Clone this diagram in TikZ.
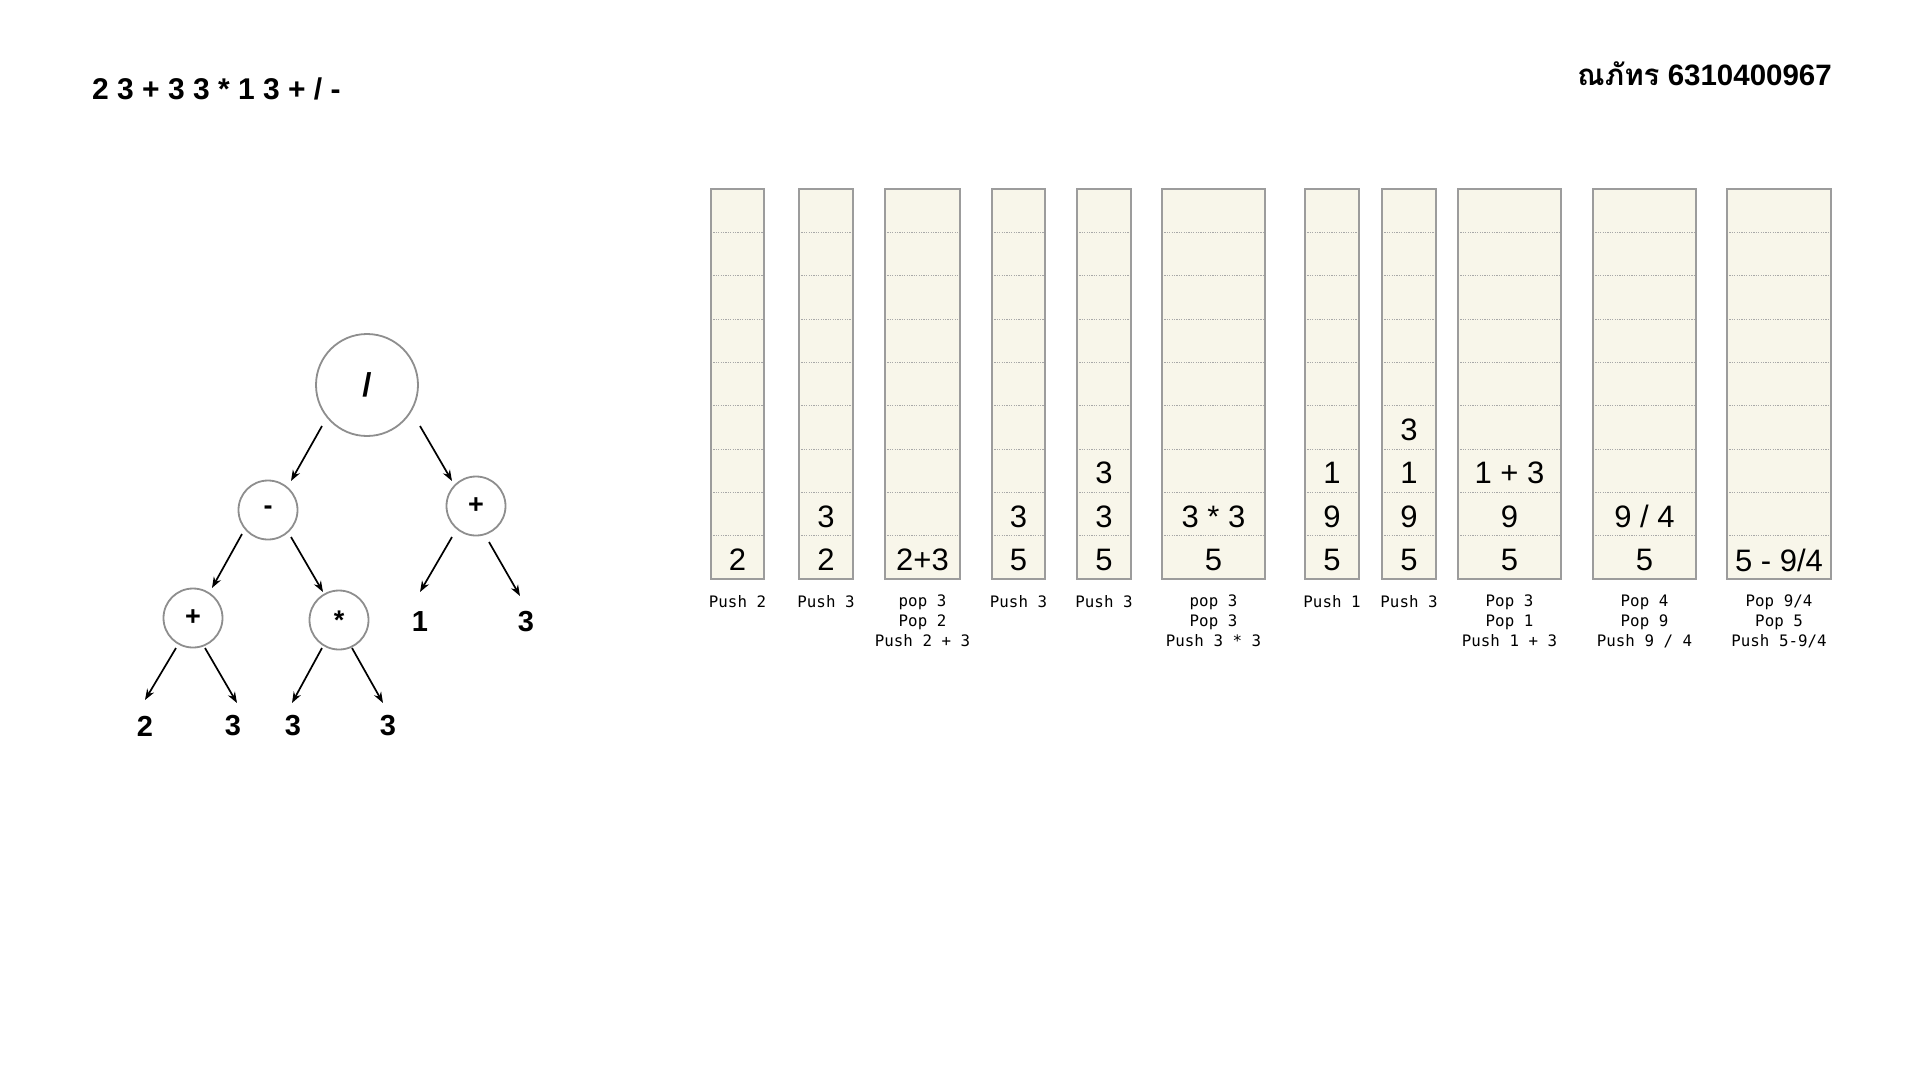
\documentclass[tikz,border=0pt]{standalone}
\usepackage{fontspec}
\setmainfont{Liberation Sans}
\newfontfamily\thaifont[Script=Thai]{Loma}
\newfontfamily\labfont{DejaVu Sans Mono}
\usetikzlibrary{arrows.meta,calc}
\definecolor{cellfill}{HTML}{F8F6EA}
\definecolor{cellline}{HTML}{9C9C9C}
\definecolor{dotcol}{HTML}{A8A8A8}
\definecolor{circcol}{HTML}{8E8E8E}
\begin{document}
\begin{tikzpicture}[x=1pt,y=-1pt,
  opc/.style={circle,draw=circcol,line width=1.8pt,fill=white,inner sep=0pt,font=\bfseries\fontsize{27}{30}\selectfont},
  leaf/.style={inner sep=0pt,font=\bfseries\fontsize{29}{32}\selectfont},
  arr/.style={-{Stealth[length=11pt,width=8pt]},line width=1.7pt,black},
  val/.style={inner sep=0pt,font=\fontsize{31}{36}\selectfont},
  lab/.style={inner sep=0pt,anchor=north,align=center,font=\labfont\fontsize{15.8}{20}\selectfont},
  dotline/.style={dotcol,line width=0.7pt,dash pattern=on 1.2pt off 1.2pt},
  cellborder/.style={cellline,line width=1.4pt}]
\useasboundingbox (0,0) rectangle (1920,1080);
\fill[white] (0,0) rectangle (1920,1080);

% titles
\node[anchor=base west,inner sep=0pt,font=\bfseries\fontsize{30}{34}\selectfont] (title) at (92,99) {2 3 + 3 3 * 1 3 + / -};
\node[anchor=base east,inner sep=0pt,font=\bfseries\fontsize{29.5}{34}\selectfont] (name) at (1832,85) {{\thaifont ณภัทร} 6310400967};

% tree
\node[opc,minimum size=102pt,font=\bfseries\fontsize{33}{36}\selectfont] (root) at (367,385) {/};
\node[opc,minimum size=59pt] (minus) at (268,510) {-};
\node[opc,minimum size=59pt] (plusR) at (476,506) {+};
\node[opc,minimum size=59pt] (plusL) at (193,618) {+};
\node[opc,minimum size=59pt] (star) at (339,620) {*};
\node[leaf] (one) at (420,622) {1};
\node[leaf] (threeR) at (526,622) {3};
\node[leaf] (two) at (145,726) {2};
\node[leaf] (threeA) at (233,726) {3};
\node[leaf] (threeB) at (293,726) {3};
\node[leaf] (threeC) at (388,726) {3};

\draw[arr] ($(root)+(-45,41)$) -- ($(minus)+(23,-29)$);
\draw[arr] ($(root)+(53,41)$) -- ($(plusR)+(-24,-25)$);
\draw[arr] ($(minus)+(-26,24)$) -- ($(plusL)+(19,-30)$);
\draw[arr] ($(minus)+(23,27)$) -- ($(star)+(-16,-28)$);
\draw[arr] ($(plusR)+(-24,31)$) -- ($(one)+(0,-30)$);
\draw[arr] ($(plusR)+(13,36)$) -- ($(threeR)+(-6,-26)$);
\draw[arr] ($(plusL)+(-17,30)$) -- ($(two)+(0,-26)$);
\draw[arr] ($(plusL)+(12,30)$) -- ($(threeA)+(4,-23)$);
\draw[arr] ($(star)+(-17,28)$) -- ($(threeB)+(-1,-23)$);
\draw[arr] ($(star)+(13,28)$) -- ($(threeC)+(-5,-23)$);

% stacks
\foreach \l/\r [count=\i] in {711/764,799/853,885/960,992/1045,1077/1131,1162/1265,1305/1359,1382/1436,1458/1561,1593/1696,1727/1831}{
  \fill[cellfill] (\l,189) rectangle (\r,579);
  \foreach \k in {1,...,8}{
    \draw[dotline] (\l,{579-\k*43.333}) -- (\r,{579-\k*43.333});
  }
  \draw[cellborder] (\l,189) rectangle (\r,579);
  \coordinate (c\i) at ({(\l+\r)/2},579);
}

% stack values
\node[val] (v1a) at ($(c1)+(0,-19)$) {2};
\node[val] (v2a) at ($(c2)+(0,-19)$) {2};
\node[val] (v2b) at ($(c2)+(0,-62.3)$) {3};
\node[val] (v3a) at ($(c3)+(0,-19)$) {2+3};
\node[val] (v4a) at ($(c4)+(0,-19)$) {5};
\node[val] (v4b) at ($(c4)+(0,-62.3)$) {3};
\node[val] (v5a) at ($(c5)+(0,-19)$) {5};
\node[val] (v5b) at ($(c5)+(0,-62.3)$) {3};
\node[val] (v5c) at ($(c5)+(0,-105.7)$) {3};
\node[val] (v6a) at ($(c6)+(0,-19)$) {5};
\node[val] (v6b) at ($(c6)+(0,-62.3)$) {3 * 3};
\node[val] (v7a) at ($(c7)+(0,-19)$) {5};
\node[val] (v7b) at ($(c7)+(0,-62.3)$) {9};
\node[val] (v7c) at ($(c7)+(0,-105.7)$) {1};
\node[val] (v8a) at ($(c8)+(0,-19)$) {5};
\node[val] (v8b) at ($(c8)+(0,-62.3)$) {9};
\node[val] (v8c) at ($(c8)+(0,-105.7)$) {1};
\node[val] (v8d) at ($(c8)+(0,-149)$) {3};
\node[val] (v9a) at ($(c9)+(0,-19)$) {5};
\node[val] (v9b) at ($(c9)+(0,-62.3)$) {9};
\node[val] (v9c) at ($(c9)+(0,-105.7)$) {1 + 3};
\node[val] (v10a) at ($(c10)+(0,-19)$) {5};
\node[val] (v10b) at ($(c10)+(0,-62.3)$) {9 / 4};
\node[val] (v11a) at ($(c11)+(0,-19)$) {5 - 9/4};

% labels
\node[lab] (l1) at ($(c1)+(0,16)$) {Push 2};
\node[lab] (l2) at ($(c2)+(0,16)$) {Push 3};
\node[lab] (l3) at ($(c3)+(0,16)$) {pop 3\\Pop 2\\Push 2 + 3};
\node[lab] (l4) at ($(c4)+(0,16)$) {Push 3};
\node[lab] (l5) at ($(c5)+(0,16)$) {Push 3};
\node[lab] (l6) at ($(c6)+(0,16)$) {pop 3\\Pop 3\\Push 3 * 3};
\node[lab] (l7) at ($(c7)+(0,16)$) {Push 1};
\node[lab] (l8) at ($(c8)+(0,16)$) {Push 3};
\node[lab] (l9) at ($(c9)+(0,16)$) {Pop 3\\Pop 1\\Push 1 + 3};
\node[lab] (l10) at ($(c10)+(0,16)$) {Pop 4\\Pop 9\\Push 9 / 4};
\node[lab] (l11) at ($(c11)+(0,16)$) {Pop 9/4\\Pop 5\\Push 5-9/4};
\end{tikzpicture}
\end{document}
